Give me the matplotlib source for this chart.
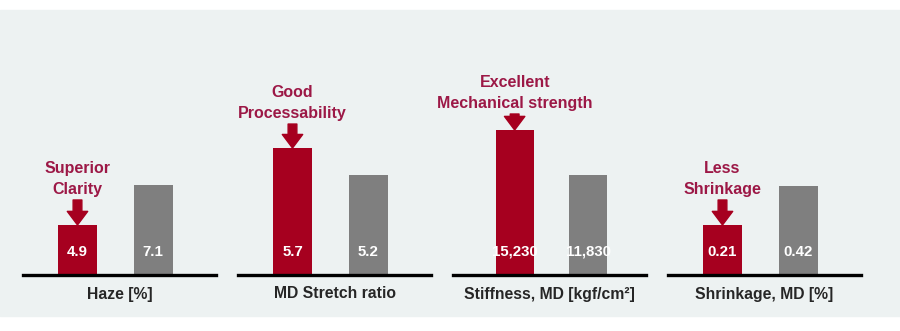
import matplotlib.pyplot as plt
from matplotlib.patches import Rectangle

# data
categories = ['Haze [%]', 'MD Stretch ratio', 'Stiffness, MD [kgf/cm²]', 'Shrinkage, MD [%]']
ours = [4.9, 5.7, 15230, 0.21]
other = [7.1, 5.2, 11830, 0.42]
value_fmt = ['{:.1f}', '{:.1f}', '{:,.0f}', '{:.2f}']
callouts = ['Superior\nClarity', 'Good\nProcessability', 'Excellent\nMechanical strength', 'Less\nShrinkage']

# layout (pixel based, figure is 900x331 at dpi 100)
W, H = 900, 331
ylims = [(2.15, 15.07), (3.35, 7.70), (4274, 22030), (-0.059, 1.205)]
xlims = [(-0.72, 1.83), (-0.72, 1.83), (-0.84, 1.79), (-0.72, 1.83)]
arrow_len = [25, 24, 16, 25]   # px
red = '#a6001f'
grey = '#7f7f7f'
text_red = '#9c1846'
bg = '#edf2f2'

plt.rcParams['font.family'] = ['Liberation Sans', 'DejaVu Sans']

fig = plt.figure(figsize=(W / 100, H / 100), dpi=100)
fig.patches.append(Rectangle((0, 1 - 316 / H), 1, (316 - 10) / H,
                             transform=fig.transFigure, color=bg, zorder=-10))

px = 72 / 100  # points per pixel

for i in range(4):
    left = 23 + i * 215
    ax = fig.add_axes([left / W, 1 - 275 / H, 193 / W, 235 / H])
    ax.patch.set_alpha(0)
    lo = ylims[i][0]
    ax.bar([0, 1], [ours[i] - lo, other[i] - lo], bottom=lo, width=0.52, color=[red, grey])
    ax.set_xlim(*xlims[i])
    ax.set_ylim(*ylims[i])
    for s in ['top', 'right', 'left']:
        ax.spines[s].set_visible(False)
    ax.spines['bottom'].set_linewidth(2.4)
    ax.set_xticks([])
    ax.set_yticks([])

    # values inside bars
    for x, v in zip([0, 1], [ours[i], other[i]]):
        ax.annotate(value_fmt[i].format(v), xy=(x, lo), xytext=(0, 23 * px),
                    textcoords='offset points', ha='center', va='center',
                    color='white', fontsize=10.8, fontweight='bold', annotation_clip=False)

    # category label
    ax.annotate(categories[i], xy=(0.5, 0), xycoords='axes fraction',
                xytext=(0, -19 * px), textcoords='offset points',
                ha='center', va='center', fontsize=11.3, fontweight='bold', color='#262626')

    # arrow + callout
    L = arrow_len[i]
    ax.annotate('', xy=(0, ours[i]), xytext=(0, L * px), textcoords='offset points',
                arrowprops=dict(arrowstyle='simple,head_length=0.7,head_width=1.05,tail_width=0.45',
                                color=red, shrinkA=0, shrinkB=0, mutation_scale=14),
                annotation_clip=False)
    ax.annotate(callouts[i], xy=(0, ours[i]), xytext=(0, (L + 3) * px),
                textcoords='offset points', ha='center', va='bottom',
                fontsize=11.5, fontweight='bold', color=text_red, linespacing=1.5,
                annotation_clip=False)

fig.savefig('out.png', dpi=100, facecolor='white')
